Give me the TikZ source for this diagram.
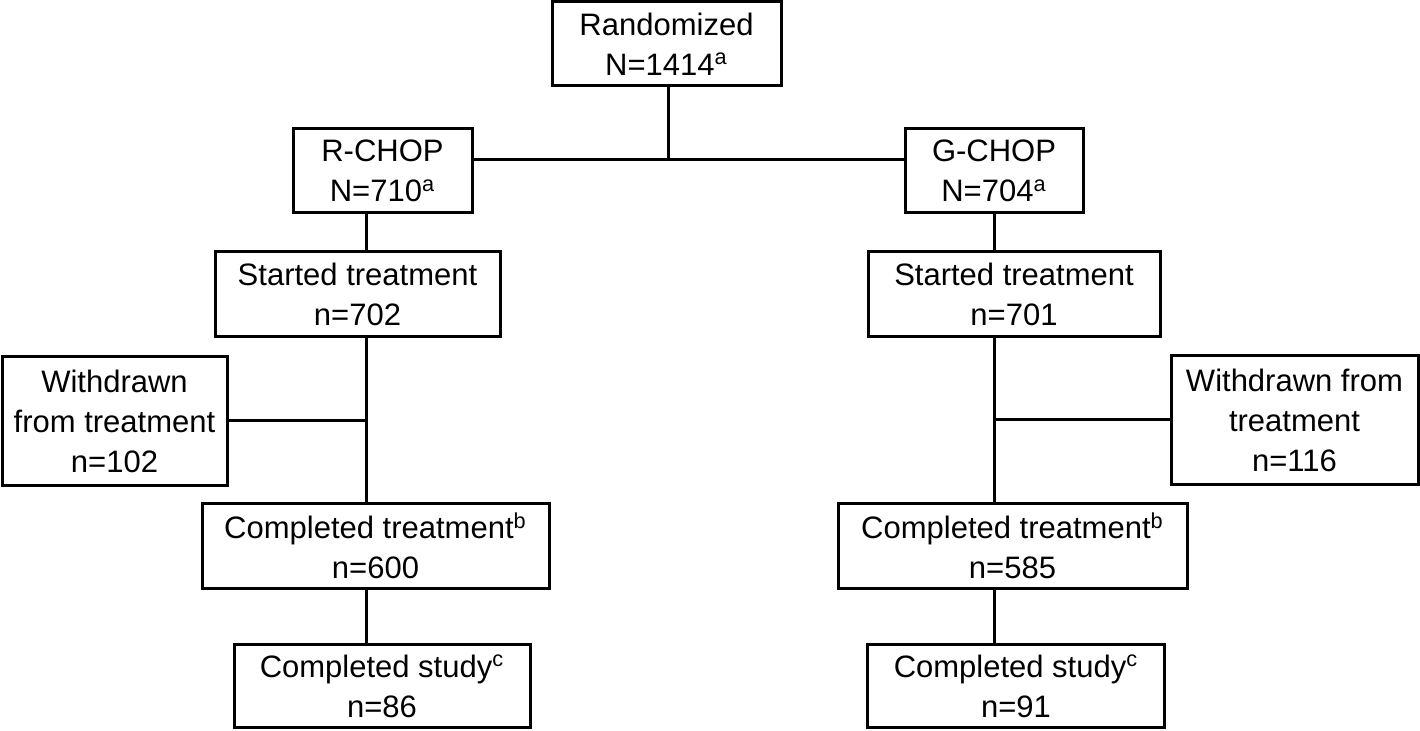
\documentclass[tikz,border=0pt]{standalone}
\usepackage{fontspec}
\setmainfont{Liberation Sans}

\begin{document}
\begin{tikzpicture}[x=0.5pt,y=-0.5pt,line width=1.5pt]
\tikzset{flowbox/.style={draw,rectangle,align=center,inner sep=0pt,
        font=\fontsize{15.5}{20}\selectfont
    }
}

\useasboundingbox (0,0) rectangle (1420,731);

\node[flowbox,minimum width=114.5pt,minimum height=42pt] (rand) at (666.5,44) {Randomized\\N=1414\textsuperscript{a}};
\node[flowbox,minimum width=89.5pt,minimum height=42pt] (rchop) at (382.5,171) {R-CHOP\\N=710\textsuperscript{a}};
\node[flowbox,minimum width=89pt,minimum height=42pt] (gchop) at (994,171) {G-CHOP\\N=704\textsuperscript{a}};

\node[flowbox,minimum width=142.5pt,minimum height=42.5pt] (startL) at (357.5,294.5) {Started treatment\\n=702};
\node[flowbox,minimum width=146pt,minimum height=42.5pt] (startR) at (1014,294.5) {Started treatment\\n=701};

\node[flowbox,minimum width=112.5pt,minimum height=64.5pt] (wdL) at (114.5,421) {Withdrawn\\from treatment\\n=102};
\node[flowbox,minimum width=123.5pt,minimum height=64.5pt] (wdR) at (1294.5,420) {Withdrawn from\\treatment\\n=116};

\node[flowbox,minimum width=173.5pt,minimum height=42.5pt] (compL) at (375.5,546) {Completed treatment\textsuperscript{b}\\n=600};
\node[flowbox,minimum width=174.5pt,minimum height=42.5pt] (compR) at (1012.5,546) {Completed treatment\textsuperscript{b}\\n=585};

\node[flowbox,minimum width=148pt,minimum height=41.5pt] (studyL) at (382,686) {Completed study\textsuperscript{c}\\n=86};
\node[flowbox,minimum width=148.5pt,minimum height=41.5pt] (studyR) at (1016,686) {Completed study\textsuperscript{c}\\n=91};

% spines
\coordinate (split) at (668,160);
\coordinate (lx) at (366,0);
\coordinate (rx) at (994,0);

\draw (rand.south -| split) -- (split);
\draw (rchop.east |- split) -- (gchop.west |- split);

\draw (rchop.south -| lx) -- (startL.north -| lx);
\draw (startL.south -| lx) -- (compL.north -| lx);
\draw (wdL.east) -- (wdL.east -| lx);
\draw (compL.south -| lx) -- (studyL.north -| lx);

\draw (gchop.south -| rx) -- (startR.north -| rx);
\draw (startR.south -| rx) -- (compR.north -| rx);
\draw (wdR.west) -- (wdR.west -| rx);
\draw (compR.south -| rx) -- (studyR.north -| rx);
\end{tikzpicture}
\end{document}
